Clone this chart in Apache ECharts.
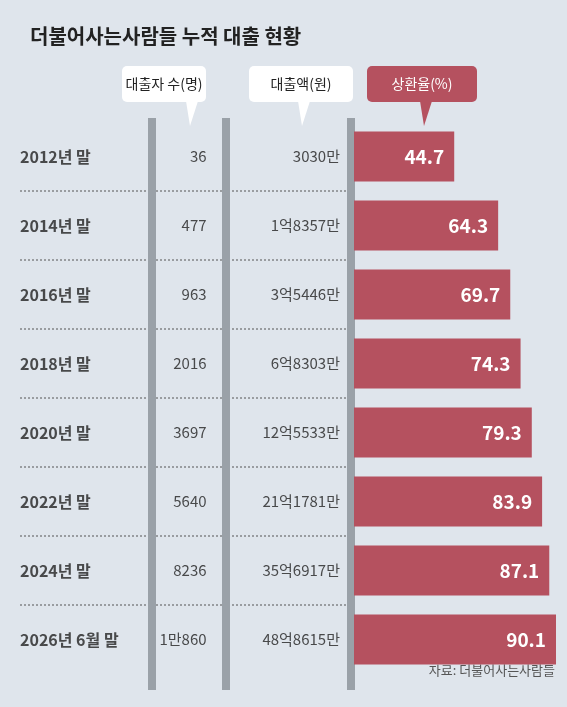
<!DOCTYPE html><html><head><meta charset="utf-8">
<script src="https://cdn.jsdelivr.net/npm/echarts@6/dist/echarts.min.js"></script>
<style>html,body{margin:0;background:#dfe5ec}#c{width:567px;height:707px}</style></head><body><div id="c"></div>
<script>
const categories=['2012년 말','2014년 말','2016년 말','2018년 말','2020년 말','2022년 말','2024년 말','2026년 6월 말'];
const borrowers=['36','477','963','2016','3697','5640','8236','1만860'];
const amounts=['3030만','1억8357만','3억5446만','6억8303만','12억5533만','21억1781만','35억6917만','48억8615만'];
const rates=[44.7,64.3,69.7,74.3,79.3,83.9,87.1,90.1];
const F='Noto Sans CJK KR';
const col='#b5515f';
function strip(x){return {type:'rect',shape:{x:x,y:118,width:8,height:572},style:{fill:'#9aa1a8'},z:-1};}
function box(x,w,t,fill,tc,px){return [{type:'rect',shape:{x:x,y:66,width:w,height:36,r:5},style:{fill:fill}},
{type:'polygon',shape:{points:[[px,101],[px+12,101],[px+4,126]]},style:{fill:fill}},
{type:'text',x:x+w/2,y:84,style:{text:t,fill:tc,fontSize:14,fontFamily:F,align:'center',verticalAlign:'middle'}}];}
const ch=echarts.init(document.getElementById('c'));
const rows=categories.map((c,i)=>i);
const graphics=[strip(148),strip(222),strip(347),
...box(122,84,'대출자 수(명)','#fff','#222',186),
...box(249,104,'대출액(원)','#fff','#222',298),
...box(367,110,'상환율(%)',col,'#fff',420),
{type:'text',left:30,top:26,style:{text:'더불어사는사람들 누적 대출 현황',fill:'#222',fontSize:20,fontWeight:'bold',fontFamily:F}},
{type:'text',right:12,top:664,style:{text:'자료: 더불어사는사람들',fill:'#555',fontSize:13,fontFamily:F}}];
ch.setOption({
animation:false,
graphic:graphics,
grid:[{left:20,right:213,top:122,bottom:33},{left:354,right:11,top:122,bottom:33}],
xAxis:[{gridIndex:0,type:'value',min:0,max:333,show:false},{gridIndex:1,type:'value',min:0,max:90.1,show:false}],
yAxis:[{gridIndex:0,type:'category',data:categories,inverse:true,show:false},
{gridIndex:1,type:'category',data:categories,inverse:true,show:false}],
series:[
{type:'scatter',xAxisIndex:0,yAxisIndex:0,symbolSize:0,data:rows.map(i=>[0,i]),
label:{show:true,position:'right',distance:0,formatter:p=>categories[p.dataIndex],fontSize:16,fontWeight:'bold',fontFamily:F,color:'#222'}},
{type:'scatter',xAxisIndex:0,yAxisIndex:0,symbolSize:0,data:rows.map(i=>[186,i]),
label:{show:true,position:'left',distance:0,formatter:p=>borrowers[p.dataIndex],fontSize:15,fontFamily:F,color:'#222'}},
{type:'scatter',xAxisIndex:0,yAxisIndex:0,symbolSize:0,data:rows.map(i=>[319,i]),
label:{show:true,position:'left',distance:0,formatter:p=>amounts[p.dataIndex],fontSize:15,fontFamily:F,color:'#222'}},
{type:'bar',xAxisIndex:1,yAxisIndex:1,data:rates,barWidth:50,itemStyle:{color:col},
label:{show:true,position:'insideRight',distance:10,color:'#fff',fontSize:19,fontWeight:'bold',fontFamily:F,formatter:p=>p.value.toFixed(1)}}
]});
const lines=[];
for(let i=0;i<categories.length-1;i++){
  const y=(ch.convertToPixel({gridIndex:0},[0,i])[1]+ch.convertToPixel({gridIndex:0},[0,i+1])[1])/2;
  lines.push({type:'line',shape:{x1:20,y1:y,x2:354,y2:y},style:{stroke:'#555',lineWidth:1,lineDash:[2,2]},z:-2});
}
ch.setOption({graphic:graphics.concat(lines)});
</script></body></html>
